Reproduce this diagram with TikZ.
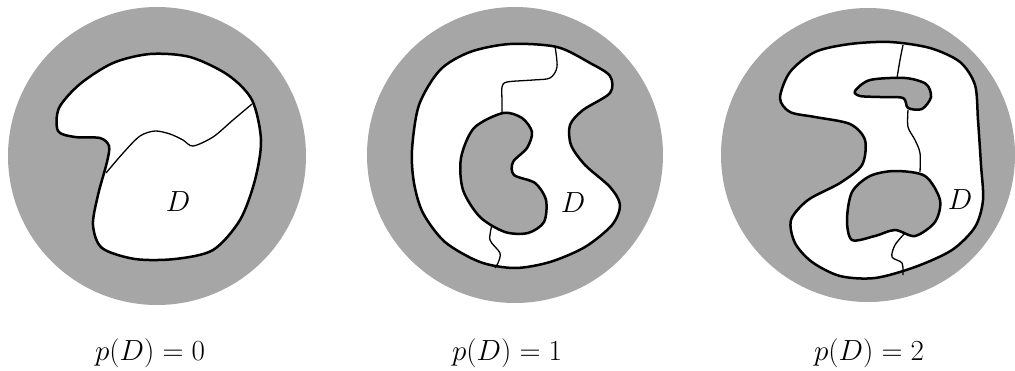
\documentclass[tikz,border=0pt]{standalone}

\tikzset{
  disc/.style={fill=gray!70},
  region/.style={fill=white, line width=2.5pt, line join=round},
  hole/.style={fill=gray!70, line width=2.5pt},
  cut/.style={line width=1.3pt},
  lab/.style={scale=1.17},
}

\begin{document}
\begin{tikzpicture}[x=1pt, y=-1pt, font=\fontsize{24.88}{30}\selectfont]
  \useasboundingbox (0,0) rectangle (1015,370);

  % p(D)=0
  \fill[disc] (157,156) circle (149);
  \draw[region] plot[smooth cycle] coordinates {
    (59,108) (80,84) (113,63) (150,54) (190,57) (228,75) (252,100)
    (261,140) (255,180) (240,220) (213,250) (175,259) (135,259)
    (102,248) (93,225) (98,195) (107,162) (109,146) (100,138) (75,137)
    (58,131)};
  \draw[cut] plot[smooth] coordinates {
    (252,104) (233,120) (213,137) (193,146) (183,140) (170,134) (155,131)
    (140,136) (124,152) (106,173)};
  \node[lab] (D0) at (178,202) {$D$};
  \node[lab] (p0) at (150,353) {$p(D)=0$};

  % p(D)=1
  \fill[disc] (515,155) circle (148);
  \draw[region] plot[smooth cycle] coordinates {
    (412,150) (419,105) (440,70) (470,52) (510,44) (557,47)
    (590,63) (610,76) (610,93) (583,110) (570,125) (571,145)
    (585,165) (610,187) (620,205) (612,225) (585,247) (550,262)
    (515,268) (480,262) (445,242) (423,213) (414,183)};
  \draw[hole] plot[smooth cycle] coordinates {
    (503,113) (522,118) (532,132) (527,148) (513,162) (514,175)
    (535,183) (546,200) (544,222) (528,233) (505,232) (480,217)
    (463,190) (461,158) (474,128)};
  \draw[cut] plot[smooth] coordinates {
    (555,46) (557,67) (550,78) (533,80) (507,82) (502,87) (502,100) (502,113)};
  \draw[cut] plot[smooth] coordinates {
    (492,225) (490,240) (500,253) (498,263) (495,268)};
  \node[lab] (D1) at (573,203) {$D$};
  \node[lab] (p1) at (507,353) {$p(D)=1$};

  % p(D)=2
  \fill[disc] (868,155) circle (147);
  \draw[region] plot[smooth cycle] coordinates {
    (780,98) (790,72) (815,52) (850,44) (890,42) (930,48)
    (960,62) (975,85) (978,120) (981,165) (983,200) (975,227)
    (952,250) (915,267) (875,278) (840,276) (812,262) (795,243)
    (791,220) (808,200) (840,183) (862,165) (865,140)
    (850,124) (815,117) (790,112)};
  \draw[hole] plot[smooth cycle] coordinates {
    (855,91) (870,80) (905,78) (926,84) (931,97) (922,109)
    (908,108) (903,98) (880,97) (860,96)};
  \draw[hole] plot[smooth cycle] coordinates {
    (895,171) (925,176) (940,200) (935,222) (915,236)
    (895,230) (875,236) (852,240) (847,220) (852,192) (870,176)};
  \draw[cut] plot[smooth] coordinates {(903,45) (900,60) (897,78)};
  \draw[cut] plot[smooth] coordinates {
    (908,110) (908,127) (915,140) (920,153) (920,172)};
  \draw[cut] plot[smooth] coordinates {
    (905,233) (895,245) (892,257) (902,263) (903,275)};
  \node[lab] (D2) at (960,200) {$D$};
  \node[lab] (p2) at (869,353) {$p(D)=2$};
\end{tikzpicture}
\end{document}
